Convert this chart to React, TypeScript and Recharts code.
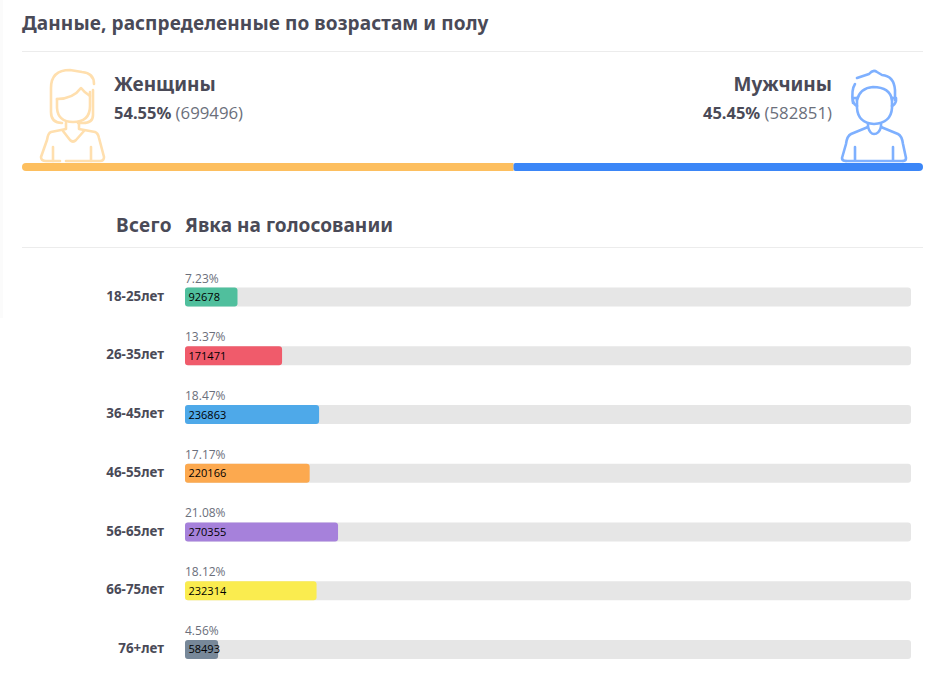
import { BarChart, Bar, Cell, XAxis, YAxis, LabelList } from 'recharts'

const ageGroups = ['18-25лет', '26-35лет', '36-45лет', '46-55лет', '56-65лет', '66-75лет', '76+лет']
const turnoutPercent = [7.23, 13.37, 18.47, 17.17, 21.08, 18.12, 4.56]
const voterCounts = [92678, 171471, 236863, 220166, 270355, 232314, 58493]
const barColors = ['#50bf9d', '#f05b6b', '#4ea9e9', '#fca94f', '#a681db', '#faec4f', '#778899']

const womenPercent = 54.55
const menPercent = 45.45
const womenCount = 699496
const menCount = 582851

const rows = ageGroups.map((age, i) => ({
  age,
  percent: turnoutPercent[i],
  count: voterCounts[i],
}))
const genderRow = [{ name: 'gender', women: womenPercent, men: menPercent }]

const DARK = '#4a4a57'
const GREY = '#6b6f7b'
const HEADING = '"Noto Sans", sans-serif'
const BODY = '"Open Sans", "Noto Sans", sans-serif'

function CountLabel({ x, y, height, value, index }: any) {
  return (
    <g>
      <text x={x} y={y - 5} fontFamily={BODY} fontSize={12} fill={GREY}>
        {turnoutPercent[index].toFixed(2)}%
      </text>
      <text x={x + 3.5} y={y + height / 2 + 4} fontFamily={BODY} fontSize={11} fill="#000">
        {value}
      </text>
    </g>
  )
}

function WomanIcon() {
  return (
    <svg width={932} height={180} style={{ position: 'absolute', left: 0, top: 0 }}>
      <g fill="none" stroke="#ffdfae" strokeWidth={2.6} strokeLinecap="round" strokeLinejoin="round">
        <path d="M62 123 Q51 123 51 112 L51 88 Q51 70 70 70 L82 72 Q94 73 94 84" />
        <path d="M93 90 L93 115 Q93 123 83 123 L78 123" />
        <path d="M57 99 L57 108 Q58 122 73 122 Q90 122 90 106 L90 92" />
        <path d="M57 99 Q73 99 81 88 Q84 92 90 96" />
        <path d="M66 123 L66 129 L51 132 Q48 133 47 140 L41 157 Q41 161 46 161 L60 161" />
        <path d="M79 123 L79 129 L95 132 Q98 133 99 138 L104 157 Q104 161 100 161 L66 161" />
        <path d="M63 131 L70 140 Q73 143 76 140 L84 131" />
        <path d="M53 147 L53 161 M91 147 L91 161" />
      </g>
    </svg>
  )
}

function ManIcon() {
  return (
    <svg width={932} height={180} style={{ position: 'absolute', left: 0, top: 0 }}>
      <g fill="none" stroke="#7eb0ff" strokeWidth={2.6} strokeLinecap="round" strokeLinejoin="round">
        <path d="M857 78 L869 74 Q873 69 877 72 L882 75 Q894 76 895 90 L895 100" />
        <path d="M853 103 Q851 90 855 84" />
        <path d="M857 100 Q860 88 873 87 Q890 87 892 100" />
        <path d="M857 98 L857 108 Q858 123 874 124 Q891 123 892 108 L892 98" />
        <path d="M857 98 L853 98 L853 101 Q854 105 857 106 M892 98 L896 98 L896 101 Q895 105 892 106" />
        <path d="M868 124 L868 127 Q870 134 874 134 Q879 134 881 127 L881 124" />
        <path d="M868 127 L851 134 Q847 136 846 144 L842 158 Q842 161 846 161" />
        <path d="M881 127 L898 134 Q902 136 903 144 L906 158 Q906 161 903 161" />
        <path d="M855 147 L855 161 M893 147 L893 161 M846 161 L903 161" />
      </g>
    </svg>
  )
}

function Txt({ x, right, y, size, bold, color, font, spacing, children }: any) {
  return (
    <div
      style={{
        position: 'absolute',
        left: right === undefined ? x : undefined,
        right: right === undefined ? undefined : 932 - right,
        top: y,
        fontSize: size,
        lineHeight: `${Math.round(size) + 6}px`,
        fontWeight: bold ? 700 : 400,
        letterSpacing: spacing,
        color: color || DARK,
        fontFamily: font || HEADING,
        whiteSpace: 'nowrap',
      }}
    >
      {children}
    </div>
  )
}

export default function App() {
  return (
    <div style={{ position: 'absolute', left: 0, top: 0, width: 932, height: 688, background: '#fff', overflow: 'hidden' }}>
      <div style={{ position: 'absolute', left: 0, top: 0, width: 3, height: 318, background: '#fbfbfb' }} />

      <Txt x={22} y={11} size={19} bold spacing={0.1}>Данные, распределенные по возрастам и полу</Txt>
      <div style={{ position: 'absolute', left: 22, top: 51, width: 901, height: 1, background: '#ececec' }} />

      <WomanIcon />
      <ManIcon />

      <Txt x={114} y={72} size={19} bold>Женщины</Txt>
      <Txt x={114} y={101} size={16.5} bold>
        {womenPercent}%{' '}
        <span style={{ fontWeight: 400, fontSize: 16.8, color: GREY, fontFamily: BODY }}>({womenCount})</span>
      </Txt>
      <Txt right={832} y={72} size={19} bold>Мужчины</Txt>
      <Txt right={832} y={101} size={16.5} bold>
        {menPercent}%{' '}
        <span style={{ fontWeight: 400, fontSize: 16.8, color: GREY, fontFamily: BODY }}>({menCount})</span>
      </Txt>

      <div style={{ position: 'absolute', left: 0, top: 0 }}>
        <BarChart
          width={932}
          height={180}
          layout="vertical"
          data={genderRow}
          margin={{ top: 162, right: 9, bottom: 9, left: 22 }}
        >
          <XAxis type="number" hide domain={[0, 100]} />
          <YAxis type="category" dataKey="name" hide />
          <Bar dataKey="women" stackId="g" barSize={8} fill="#fdbf5f" radius={[4, 0, 0, 4]} isAnimationActive={false} />
          <Bar dataKey="men" stackId="g" barSize={8} fill="#3b86f7" radius={[2, 4, 4, 2]} isAnimationActive={false} />
        </BarChart>
      </div>

      <Txt right={172} y={213} size={19} bold spacing={0.4}>Всего</Txt>
      <Txt x={185} y={213} size={19} bold spacing={0.05}>Явка на голосовании</Txt>
      <div style={{ position: 'absolute', left: 22, top: 247, width: 901, height: 1, background: '#ececec' }} />

      <div style={{ position: 'absolute', left: 0, top: 0 }}>
        <BarChart
          width={932}
          height={688}
          layout="vertical"
          data={rows}
          margin={{ top: 267.6, right: 21, bottom: 9.4, left: 22 }}
        >
          <XAxis type="number" hide domain={[0, 100]} />
          <YAxis
            type="category"
            dataKey="age"
            width={163}
            axisLine={false}
            tickLine={false}
            tickMargin={15}
            interval={0}
            tick={{ fontSize: 13.4, fontWeight: 700, fill: DARK, fontFamily: HEADING, dy: -1 }}
          />
          <Bar
            dataKey="percent"
            barSize={19}
            radius={3}
            background={{ fill: '#e6e6e6', radius: 3 }}
            isAnimationActive={false}
          >
            {rows.map((r, i) => (
              <Cell key={r.age} fill={barColors[i]} />
            ))}
            <LabelList dataKey="count" content={CountLabel} />
          </Bar>
        </BarChart>
      </div>
    </div>
  )
}
